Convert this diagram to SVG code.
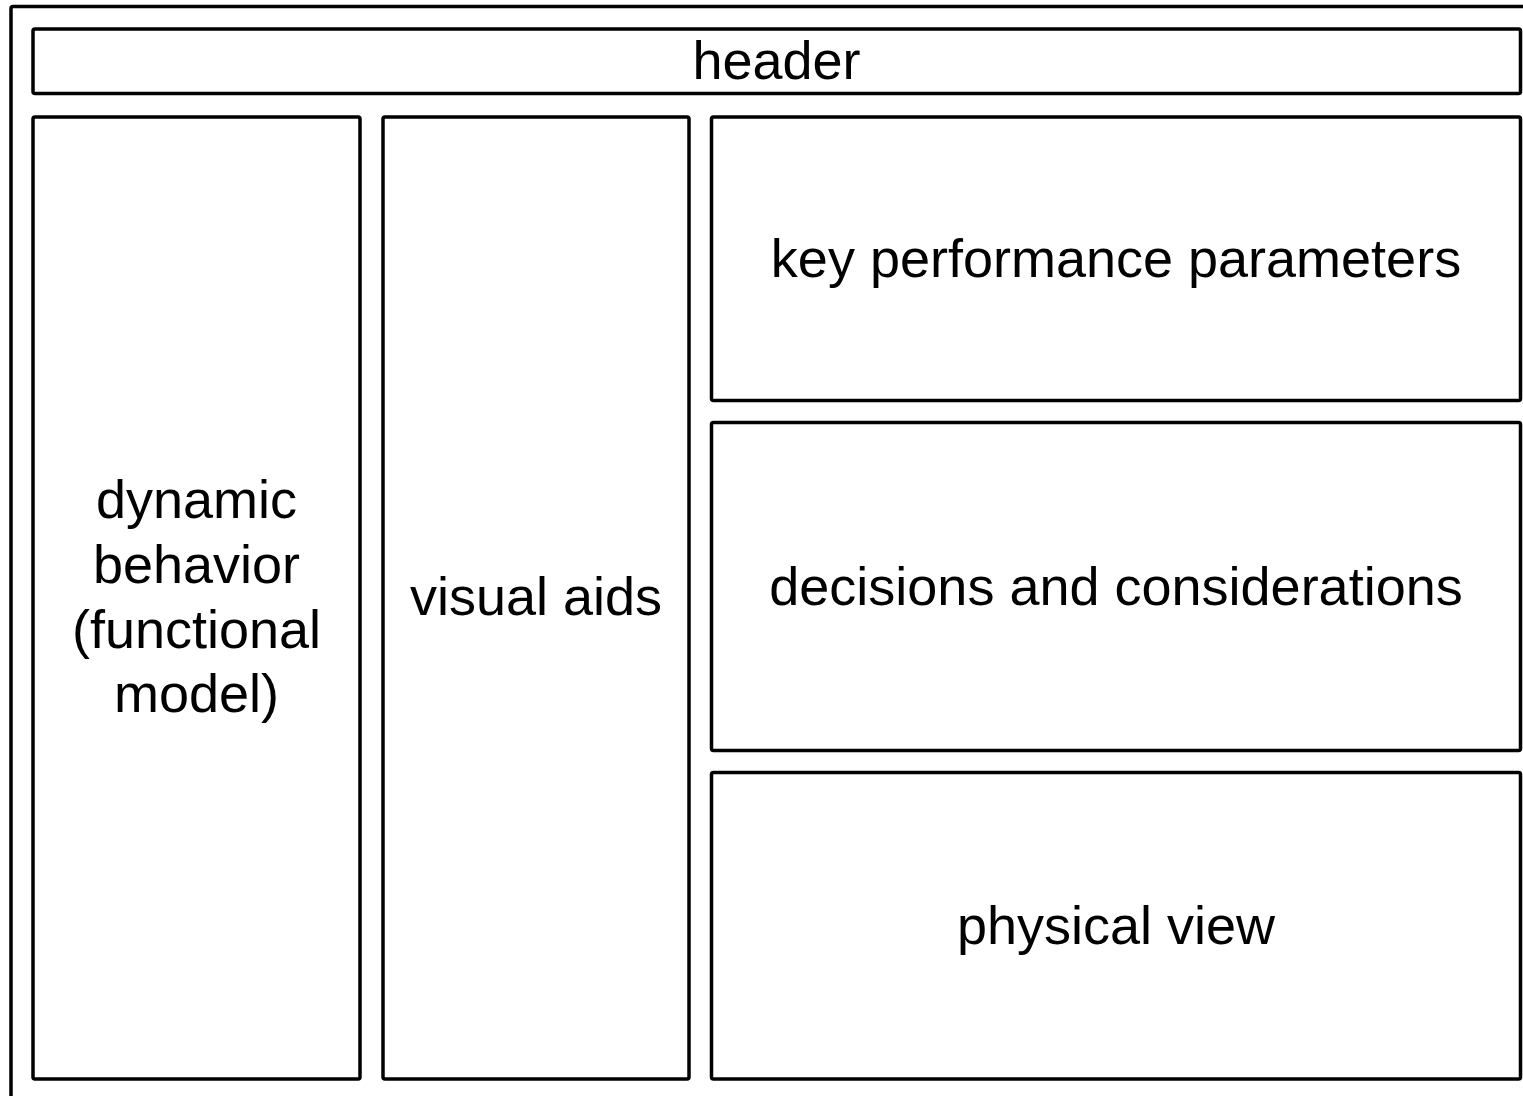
<svg xmlns="http://www.w3.org/2000/svg" width="1523" height="1096" viewBox="0 0 1523 1096">
<style>
.box{fill:#fff;stroke:#000;stroke-width:3.5;}
.t{font-family:"Liberation Sans",Arial,sans-serif;font-size:54px;fill:#000;text-anchor:middle;}
</style>
<rect width="1523" height="1096" fill="#fff"/>
<g id="frame"><rect class="box" x="11" y="6.5" width="1540" height="1120" rx="2"/></g>
<g id="header"><rect class="box" x="33" y="29" width="1487.5" height="64.5" rx="2"/><text class="t" x="776.5" y="79">header</text></g>
<g id="dynamic"><rect class="box" x="33" y="117" width="327" height="962" rx="2"/>
<text class="t" x="196.5" y="518">dynamic</text>
<text class="t" x="196.5" y="583">behavior</text>
<text class="t" x="196.5" y="648">(functional</text>
<text class="t" x="196.5" y="712">model)</text></g>
<g id="visual"><rect class="box" x="383" y="117" width="306" height="962" rx="2"/><text class="t" x="536" y="615">visual aids</text></g>
<g id="kpp"><rect class="box" x="711.5" y="117" width="809" height="283.5" rx="2"/><text class="t" x="1116" y="277">key performance parameters</text></g>
<g id="decisions"><rect class="box" x="711.5" y="422.5" width="809" height="328" rx="2"/><text class="t" x="1116" y="605">decisions and considerations</text></g>
<g id="physical"><rect class="box" x="711.5" y="772.5" width="809" height="306.5" rx="2"/><text class="t" x="1116" y="944">physical view</text></g>
<g id="connectors"/>
</svg>
